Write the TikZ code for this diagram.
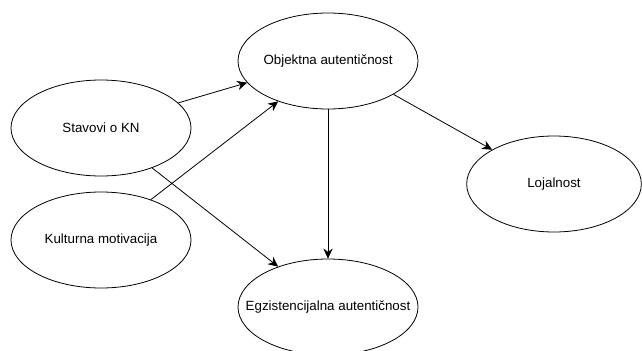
\documentclass[tikz,border=0pt]{standalone}
\usepackage{fontspec}
\setmainfont{Liberation Sans}
\usetikzlibrary{shapes.geometric,arrows.meta}

\newcommand{\ctext}[1]{\makebox[0pt]{#1}}

\begin{document}
\begin{tikzpicture}[
    x=0.75pt,
    y=-0.75pt,
    line cap=butt,
    construct/.style={ellipse, draw, line width=0.6pt, inner sep=0pt,
        minimum width=135pt, minimum height=72pt, font=\fontsize{10}{12}\selectfont},
    link/.style={line width=0.6pt, -{Stealth[length=7.5pt,width=7pt]}}
]

% Page frame
\useasboundingbox (0,0) rectangle (642,350);

% Constructs
\node[construct] (stav) at (101,128) {\ctext{Stavovi o KN}};
\node[construct] (kult) at (101,240) {\ctext{Kulturna motivacija}};
\node[construct] (obj)  at (328,61)  {\ctext{Objektna autentičnost}};
\node[construct] (egz)  at (328,307) {\ctext{Egzistencijalna autentičnost}};
\node[construct, minimum width=131pt] (loj) at (554,184) {\ctext{Lojalnost}};

% Paths
\draw[link] (stav.18)  -- (obj.195);
\draw[link] (kult.39)  -- (obj.219);
\draw[link] (stav.322) -- (egz.141);
\draw[link] (obj.south) -- (egz.north);
\draw[link] (obj.333)  -- (loj.151);

\end{tikzpicture}
\end{document}
